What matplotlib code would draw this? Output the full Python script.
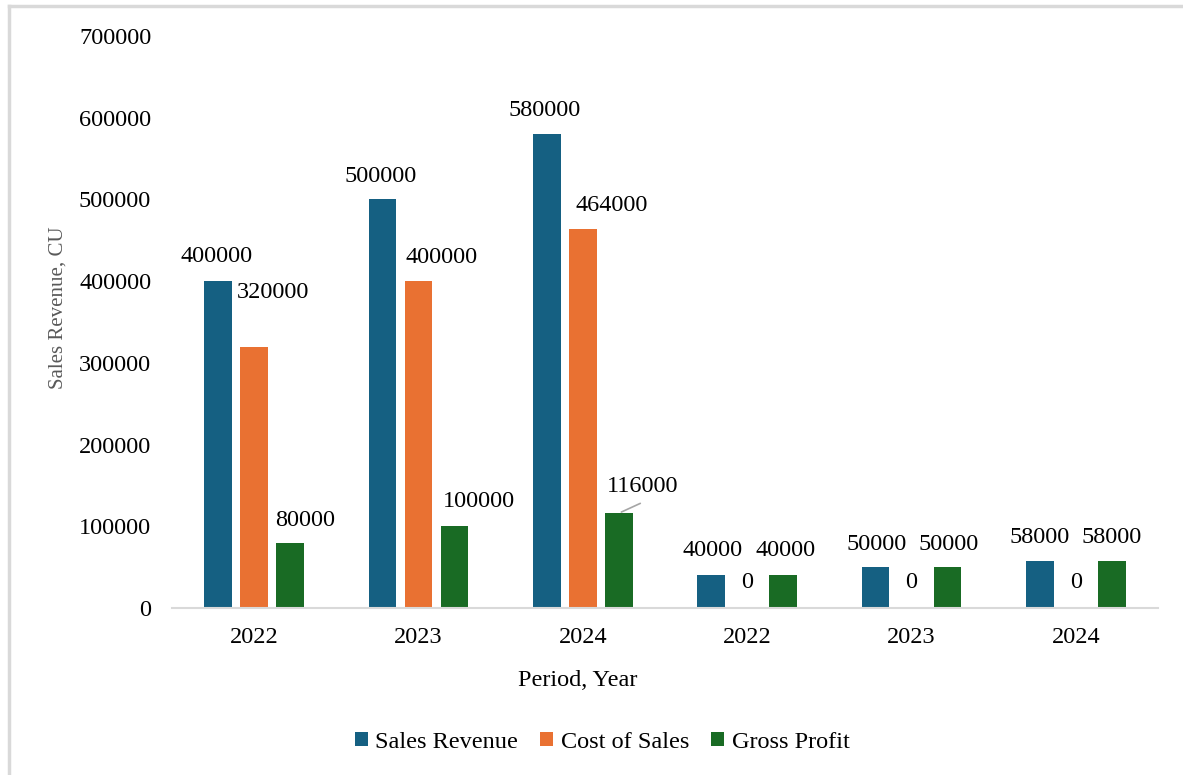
import matplotlib
matplotlib.use("Agg")
import matplotlib.pyplot as plt
import numpy as np
from matplotlib.lines import Line2D

categories = ["2022", "2023", "2024", "2022", "2023", "2024"]
series_names = ["Sales Revenue", "Cost of Sales", "Gross Profit"]
sales_revenue = [400000, 500000, 580000, 40000, 50000, 58000]
cost_of_sales = [320000, 400000, 464000, 0, 0, 0]
gross_profit = [80000, 100000, 116000, 40000, 50000, 58000]
colors = ["#156082", "#E97132", "#196B24"]

# label offsets in pixels (dx, dy) relative to bar top centre
label_offsets = [
    [(-2, 25), (-2, 23), (-2, 24), (1, 25), (1, 23), (0, 23)],
    [(19, 54), (23, 24), (29, 23), (0, 25), (0, 25), (0, 25)],
    [(15, 22), (24, 25), (24, 27), (2, 25), (1, 23), (0, 23)],
]

plt.rcParams['font.family'] = ['Liberation Serif', 'DejaVu Serif']
FS = 17.5

fig = plt.figure(figsize=(11.83, 7.75), dpi=100)
ax = fig.add_axes([172/1183, 1-608/775, (1158-172)/1183, (608-36)/775])

x = np.arange(len(categories))
width = 0.17
step = 0.219
all_series = [sales_revenue, cost_of_sales, gross_profit]
for i, (vals, name, col) in enumerate(zip(all_series, series_names, colors)):
    pos = x + (i - 1) * step
    ax.bar(pos, vals, width, color=col, label=name, zorder=2)
    for j, (p, v) in enumerate(zip(pos, vals)):
        dx, dy = label_offsets[i][j]
        ax.annotate(f"{v}", xy=(p, v), xytext=(dx, dy), textcoords="offset pixels",
                    ha="center", va="center", fontsize=FS, color="#000000")

# leader line for 116000
ax.annotate("", xy=(x[2] + step, gross_profit[2]), xytext=(24, 11),
            textcoords="offset pixels",
            arrowprops=dict(arrowstyle="-", color="#A6A6A6", lw=1.2))

ax.set_xlim(-0.5, len(categories) - 0.5)
ax.set_ylim(0, 700000)
ax.set_yticks(np.arange(0, 700001, 100000))
ax.set_yticklabels([f"{v}" for v in range(0, 700001, 100000)])
ax.set_xticks(x)
ax.set_xticklabels(categories)
ax.tick_params(axis="both", length=0, labelsize=FS, colors="#000000")
ax.tick_params(axis="y", pad=15)
ax.tick_params(axis="x", pad=14)
for s in ["top", "right", "left"]:
    ax.spines[s].set_visible(False)
ax.spines["bottom"].set_color("#D9D9D9")
ax.spines["bottom"].set_linewidth(1.5)

fig.text(578/1183, 1-680/775, "Period, Year", ha="center", va="center",
         fontsize=FS, color="#000000")
fig.text(58/1183, 1-308/775, "Sales Revenue, CU", rotation=90, ha="center", va="center",
         fontsize=15, color="#595959")

handles, labels = ax.get_legend_handles_labels()
fig.legend(handles, labels, loc="center", bbox_to_anchor=(602/1183, 1-742/775), ncol=3,
           frameon=False, fontsize=FS, handlelength=0.55, handleheight=0.55,
           handletextpad=0.3, columnspacing=0.9)

# partial frame (left and top edges visible)
fig.add_artist(Line2D([9/1183, 9/1183], [0, 1-6/775], transform=fig.transFigure,
                      color="#D9D9D9", lw=2.5))
fig.add_artist(Line2D([9/1183, 1], [1-6/775, 1-6/775], transform=fig.transFigure,
                      color="#D9D9D9", lw=2.5))

fig.savefig("out.png", dpi=100)
